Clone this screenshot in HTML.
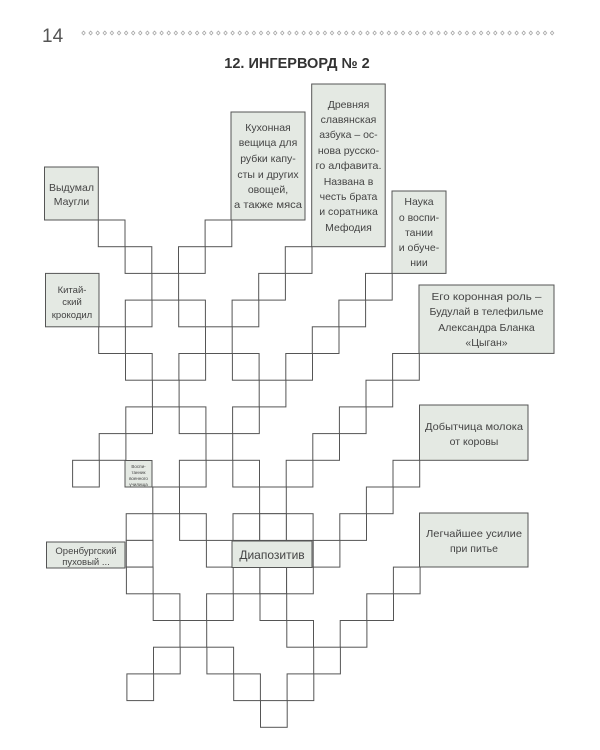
<!DOCTYPE html>
<html><head><meta charset="utf-8"><style>
html,body{margin:0;padding:0;background:#fff;}
svg{display:block;}
text{font-family:"Liberation Sans","DejaVu Sans",sans-serif;fill:#444;}
</style></head><body>
<svg width="600" height="750" viewBox="0 0 600 750" xmlns="http://www.w3.org/2000/svg">
<defs>
<pattern id="dia" x="80" y="29" width="7.1" height="8" patternUnits="userSpaceOnUse">
<polygon points="3.5,2 5.2,4 3.5,6 1.8,4" fill="none" stroke="#999" stroke-width="0.7"/>
</pattern>
</defs>
<rect width="600" height="750" fill="#fff"/>
<text x="42" y="42" font-size="19" style="fill:#555">14</text>
<rect x="80" y="29" width="475" height="8" fill="url(#dia)"/>
<text x="297" y="68" font-size="14.5" font-weight="bold" text-anchor="middle" style="fill:#333">12. ИНГЕРВОРД № 2</text>

<g id="cells" fill="#fff" stroke="#555" stroke-width="1"></g>
<script>
(function(){
var rows={0:[0,4],1:[1,3,7],2:[2,6,10],3:[1,3,5,9],4:[0,4,8],5:[1,3,5,7,11],6:[2,6,10],7:[1,3,5,9],8:[0,4,8],9:[-1,3,5,7,11],10:[2,6,10],11:[1,3,5,6,7,9],12:[1,4,8],13:[1,5,6,7,11],14:[2,4,6,10],15:[3,7,9],16:[2,4,8],17:[1,5,7],18:[6]};
var g=document.getElementById('cells');var ns='http://www.w3.org/2000/svg';
for(var r in rows){rows[r].forEach(function(c){var e=document.createElementNS(ns,'rect');
var x=98.3+26.7*c+0.11*r, y=220+26.7*r;
e.setAttribute('x',x.toFixed(1));e.setAttribute('y',y.toFixed(1));e.setAttribute('width','26.7');e.setAttribute('height','26.7');g.appendChild(e);});}
})();
</script>

<g fill="#e4e9e3" stroke="#555" stroke-width="1">
<rect x="44.5" y="167" width="53.8" height="53"/>
<rect x="45.5" y="273.4" width="53.5" height="53.4"/>
<rect x="231" y="112" width="74" height="108"/>
<rect x="311.7" y="84" width="73.5" height="162.7"/>
<rect x="392" y="191" width="54" height="82.4"/>
<rect x="419" y="285" width="135" height="68.4"/>
<rect x="419.5" y="405" width="108.5" height="55.3"/>
<rect x="419.5" y="513" width="108.5" height="54"/>
<rect x="46.5" y="542" width="78.5" height="26"/>
<rect x="232" y="541" width="80" height="26.5"/>
<rect x="125" y="460.5" width="27" height="26.5"/>
</g>

<g font-size="10.5" text-anchor="middle">
<text x="71.5" y="191">Выдумал</text>
<text x="71.5" y="205">Маугли</text>

<text x="72" y="293" font-size="9.5">Китай-</text>
<text x="72" y="305" font-size="9.5">ский</text>
<text x="72" y="318" font-size="9.5">крокодил</text>

<text x="268" y="131">Кухонная</text>
<text x="268" y="146">вещица для</text>
<text x="268" y="162">рубки капу-</text>
<text x="268" y="178">сты и других</text>
<text x="268" y="193">овощей,</text>
<text x="268" y="208" textLength="68" lengthAdjust="spacingAndGlyphs">а также мяса</text>

<text x="348.5" y="108">Древняя</text>
<text x="348.5" y="123">славянская</text>
<text x="348.5" y="138">азбука – ос-</text>
<text x="348.5" y="154">нова русско-</text>
<text x="348.5" y="169" textLength="66" lengthAdjust="spacingAndGlyphs">го алфавита.</text>
<text x="348.5" y="185">Названа в</text>
<text x="348.5" y="200">честь брата</text>
<text x="348.5" y="215">и соратника</text>
<text x="348.5" y="231">Мефодия</text>

<text x="419" y="205">Наука</text>
<text x="419" y="221">о воспи-</text>
<text x="419" y="236">тании</text>
<text x="419" y="251">и обуче-</text>
<text x="419" y="266">нии</text>

<text x="486.5" y="300" textLength="110" lengthAdjust="spacingAndGlyphs">Его коронная роль –</text>
<text x="486.5" y="315" textLength="114" lengthAdjust="spacingAndGlyphs">Будулай в телефильме</text>
<text x="486.5" y="331">Александра Бланка</text>
<text x="486.5" y="346">«Цыган»</text>

<text x="474" y="430" textLength="98" lengthAdjust="spacingAndGlyphs">Добытчица молока</text>
<text x="474" y="445">от коровы</text>

<text x="474" y="537" textLength="96" lengthAdjust="spacingAndGlyphs">Легчайшее усилие</text>
<text x="474" y="552">при питье</text>

<text x="86" y="554" font-size="9.5">Оренбургский</text>
<text x="86" y="565" font-size="9.5">пуховый ...</text>

<text x="272" y="559" font-size="12">Диапозитив</text>

<text x="138.5" y="468" font-size="4.5">Воспи-</text>
<text x="138.5" y="474" font-size="4.5">танник</text>
<text x="138.5" y="480" font-size="4.5">военного</text>
<text x="138.5" y="486" font-size="4.5">училища</text>
</g>
</svg>
</body></html>
